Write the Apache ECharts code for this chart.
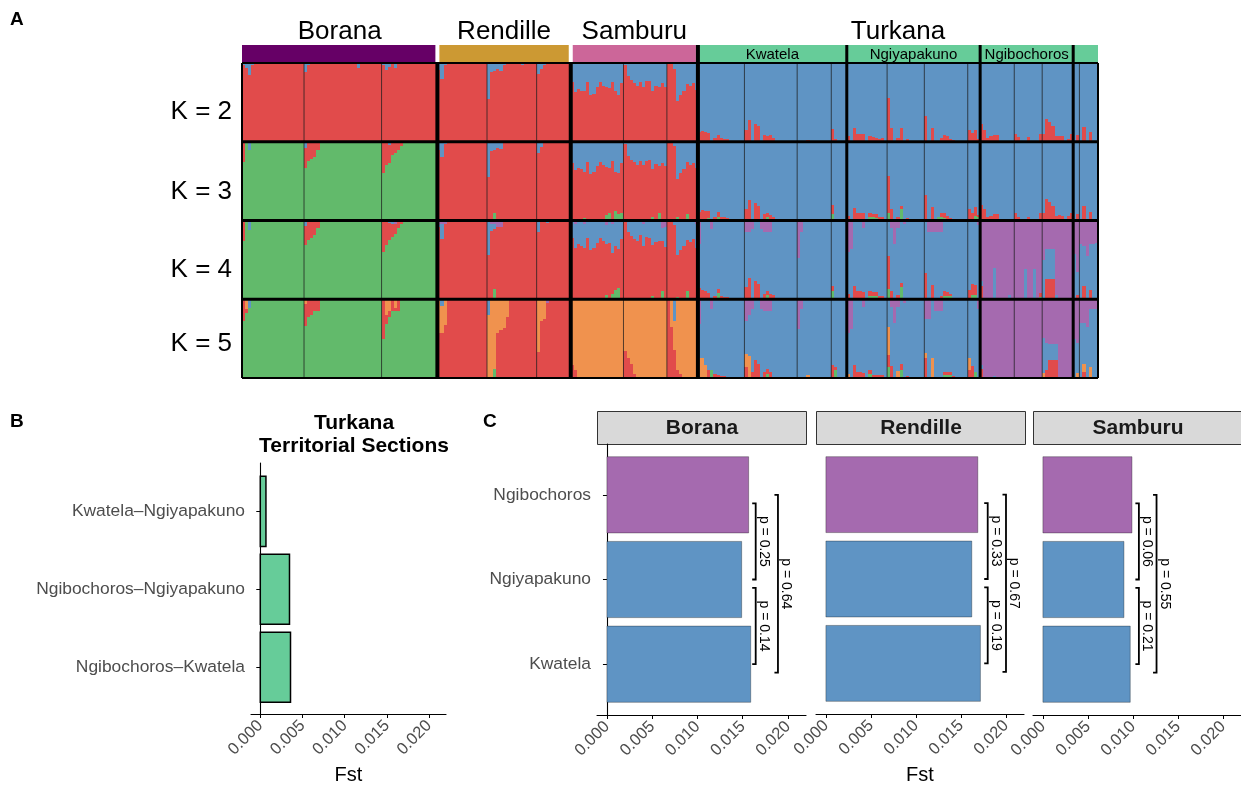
<!DOCTYPE html>
<html>
<head>
<meta charset="utf-8">
<script src="https://cdn.jsdelivr.net/npm/echarts@6.0.0/dist/echarts.min.js"></script>
<style>
  html, body { margin: 0; padding: 0; background: #ffffff; }
  #chart { width: 1241px; height: 786px; }
</style>
</head>
<body>
<div id="chart"></div>
<script>
// ---------------------------------------------------------------------------
// Panel A: ancestry proportions per individual (K = 2..5)
// ---------------------------------------------------------------------------
const K_VALUES = [2, 3, 4, 5];
const K_LABEL_POS = [0.62, 1.64, 2.63, 3.56];
const STACK_ORDER = ['green', 'red', 'orange', 'blue', 'purple']; // bottom -> top
const ANCESTRY_COLORS = { green: '#62BA6B', red: '#E14B4B', orange: '#F0924E', blue: '#5F94C4', purple: '#A56AAF' };

const POPULATIONS = ['Borana', 'Rendille', 'Samburu', 'Turkana'];
const POP_COLORS = ['#660066', '#CC9933', '#CC6699', '#66CC99'];
const BLOCKS = ['Borana', 'Rendille', 'Samburu', 'Kwatela', 'Ngiyapakuno', 'Ngibochoros', 'Other'];
const BLOCK_POP = [0, 1, 2, 3, 3, 3, 3];
const BLOCK_SECTION_LABEL = ['', '', '', 'Kwatela', 'Ngiyapakuno', 'Ngibochoros', ''];
// individuals per sampling subgroup inside each block
const SUBGROUP_SIZES = [[20, 25, 18], [16, 16, 11], [17, 14, 10], [15, 17, 11, 5], [13, 12, 14, 4], [11, 9, 10], [2, 6]];

// component filling the remainder of each individual, per block
const DOMINANT_K2 = ['red', 'red', 'red', 'blue', 'blue', 'blue', 'blue'];
const DOMINANT_K3 = ['green', 'red', 'red', 'blue', 'blue', 'blue', 'blue'];
const DOMINANT_K4 = ['green', 'red', 'red', 'blue', 'blue', 'purple', 'blue'];
const DOMINANT_K5 = ['green', 'red', 'orange', 'blue', 'blue', 'purple', 'blue'];

// minor components, listed per sampling subgroup from the left (unlisted = 0)
const Q2_BORANA_BLUE = [[0.02, 0.06, 0.15, 0.02, 0, 0, 0.01, 0, 0, 0, 0.01], [0.12, 0.03, 0, 0, 0, 0, 0, 0, 0, 0, 0, 0, 0, 0, 0, 0, 0, 0.06], [0.03, 0.09, 0.05, 0, 0.06]];
const Q3_BORANA_RED = [[0.26], [0.25, 0.25, 0.22, 0.19, 0.10], [0.40, 0.30, 0.23, 0.17, 0.14, 0.10, 0.05]];
const Q3_BORANA_BLUE = [[0, 0, 0.11], [0.08], [0, 0, 0.04]];
const Q4_BORANA_RED = [[0.26], [0.24, 0.25, 0.22, 0.18, 0.10], [0.40, 0.31, 0.22, 0.17, 0.13, 0.09, 0.05]];
const Q4_BORANA_BLUE = [[0, 0, 0.12], [0.07], [0, 0, 0.03, 0.04]];
const Q4_BORANA_PURPLE = [[], [], [0, 0, 0, 0, 0.04]];
const Q5_BORANA_RED = [[0.28, 0.04], [0.28, 0.23, 0.20, 0.15, 0.15], [0.50, 0.11, 0.07, 0.15, 0.04, 0.15]];
const Q5_BORANA_ORANGE = [[0, 0.13], [0.06], [0, 0.20, 0.15, 0, 0.11]];
const Q5_BORANA_BLUE = [[0, 0, 0.11]];

const Q2_RENDILLE_BLUE = [[0.09, 0.20, 0.03], [0.46, 0.11, 0.10, 0.08, 0.10, 0.02, 0, 0, 0, 0, 0, 0.02], [0.14, 0.08, 0.02]];
const Q3_RENDILLE_BLUE = [[0.10, 0.19, 0.03], [0.45, 0.12, 0.10, 0.08, 0.09, 0.02], [0.14, 0.07, 0.02]];
const Q3_RENDILLE_GREEN = [[], [0, 0, 0.10]];
const Q4_RENDILLE_BLUE = [[0.02, 0.19], [0.44, 0.08, 0.06], [0.14, 0, 0, 0.03]];
const Q4_RENDILLE_PURPLE = [[0.06, 0.04, 0.05], [0, 0.05, 0.05, 0.08, 0.08]];
const Q4_RENDILLE_GREEN = [[], [0, 0, 0.13]];
const Q5_RENDILLE_ORANGE = [[0.43, 0.34, 0.33], [0.80, 1.0, 0.89, 0.43, 0.39, 0.36, 0.22], [0.67, 0.27, 0.25]];
const Q5_RENDILLE_BLUE = [[0, 0.09], [0.20]];
const Q5_RENDILLE_GREEN = [[], [0, 0, 0.11]];
const Q5_RENDILLE_PURPLE = [[], [], [0, 0, 0, 0.05]];

const Q2_SAMBURU_BLUE = [[0.24, 0.37, 0.33, 0.35, 0.36, 0.24, 0.40, 0.39, 0.31, 0.24, 0.29, 0.31, 0.32, 0.24, 0.36, 0.40, 0.26], [0.02, 0.17, 0.22, 0.26, 0.29, 0.24, 0.30, 0.23, 0.23, 0.35, 0.29, 0.30, 0.26, 0.31], [0, 0, 0.07, 0.48, 0.40, 0.35, 0.27, 0.29, 0.26, 0.34]];
const Q3_SAMBURU_BLUE = [[0.27, 0.36, 0.33, 0.34, 0.38, 0.26, 0.41, 0.38, 0.31, 0.26, 0.30, 0.32, 0.33, 0.25, 0.38, 0.40, 0.27], [0.03, 0.18, 0.23, 0.26, 0.30, 0.25, 0.30, 0.24, 0.23, 0.34, 0.28, 0.31, 0.27, 0.31], [0, 0, 0.05, 0.47, 0.40, 0.34, 0.26, 0.29, 0.27, 0.33]];
const Q3_SAMBURU_GREEN = [[0, 0, 0, 0, 0.03, 0, 0, 0, 0, 0, 0, 0.07, 0.10, 0, 0.12, 0.08, 0.10], [0, 0, 0, 0, 0, 0, 0, 0, 0, 0.05, 0, 0.09], [0, 0, 0, 0.04, 0, 0, 0.08]];
const Q4_SAMBURU_BLUE = [[0.22, 0.30, 0.30, 0.32, 0.30, 0.22, 0.37, 0.35, 0.28, 0.22, 0.26, 0.24, 0.29, 0.36, 0.33, 0.36, 0.24], [0.02, 0.15, 0.20, 0.24, 0.26, 0.19, 0.28, 0.21, 0.22, 0.31, 0.27, 0.26, 0.16, 0.26], [0, 0, 0.06, 0.44, 0.37, 0.32, 0.25, 0.27, 0.24, 0.30]];
const Q4_SAMBURU_PURPLE = [[0, 0.05, 0, 0, 0.05, 0, 0, 0, 0, 0, 0, 0.06, 0, 0.05], [0, 0, 0, 0, 0, 0, 0.05, 0, 0, 0, 0, 0, 0.10, 0.08], [0, 0, 0, 0, 0, 0, 0, 0, 0, 0.05]];
const Q4_SAMBURU_GREEN = [[0, 0, 0, 0, 0.02, 0, 0, 0, 0, 0, 0, 0.05, 0, 0.07, 0.12, 0.14], [0, 0, 0, 0, 0, 0, 0, 0, 0, 0.04, 0, 0, 0.10], [0, 0, 0, 0.03, 0, 0, 0.10]];
const Q5_SAMBURU_RED = [[0.17, 0.10], [0.34, 0.26, 0.18, 0.05], [1.0, 0.65, 0.35, 0.10, 0.05]];
const Q5_SAMBURU_BLUE = [[], [], [0, 0, 0.28]];

const Q2_KWATELA_RED = [[0.12, 0.14, 0.13, 0.11, 0.01, 0.05, 0.08, 0.05, 0.04, 0.04, 0.01, 0, 0, 0.01], [0.15, 0.27, 0.01, 0.23, 0.20, 0.01, 0.08, 0.07, 0.08, 0.05, 0, 0, 0, 0, 0, 0.01], [0, 0, 0, 0.02], [0.16, 0.03]];
const Q3_KWATELA_RED = [[0.11, 0.13, 0.12, 0.09, 0.01, 0.05, 0.06, 0.05, 0.04, 0.03], [0.14, 0.26, 0.01, 0.22, 0.19, 0.01, 0.08, 0.05, 0.07, 0.05], [0, 0, 0, 0.02], [0.12, 0.02]];
const Q3_KWATELA_GREEN = [[0, 0, 0, 0.03, 0, 0, 0.05], [0, 0, 0, 0, 0, 0, 0, 0.04], [], [0.08]];
const Q4_KWATELA_RED = [[0.14, 0.12, 0.10, 0.08, 0, 0.04, 0.05, 0.04, 0.03, 0.03], [0.15, 0.27, 0, 0.23, 0.20, 0, 0.07, 0.06, 0.07, 0.05], [0, 0, 0, 0.02], [0.07, 0.02]];
const Q4_KWATELA_GREEN = [[0, 0, 0, 0, 0, 0, 0.08], [0, 0, 0, 0, 0, 0, 0, 0.05], [], [0.10]];
const Q4_KWATELA_PURPLE = [[0.30, 0, 0, 0, 0.11], [0.15, 0.14, 0.11, 0, 0, 0.11, 0.15, 0.15, 0.15], [0.47, 0.15]];
const Q5_KWATELA_ORANGE = [[0.25, 0.25, 0.16], [0.17, 0.28], [0, 0, 0, 0.04]];
const Q5_KWATELA_RED = [[0, 0, 0, 0.10, 0, 0.05, 0.04, 0.03, 0.03], [0.14, 0, 0.08, 0.23, 0.18, 0, 0.07, 0.06, 0.07], [], [0.16, 0.04]];
const Q5_KWATELA_GREEN = [[0, 0, 0, 0, 0.10], [0, 0, 0, 0, 0, 0, 0, 0.05], [], [0, 0.10]];
const Q5_KWATELA_PURPLE = [[0.32, 0, 0, 0, 0.12], [0.27, 0.20, 0.12, 0, 0, 0.12, 0.15, 0.15, 0.15], [0.38, 0.12]];

const Q2_NGIYAPAKUNO_RED = [[0.07, 0.01, 0.17, 0.10, 0.10, 0.10, 0.01, 0.07, 0.06, 0.05, 0.04, 0.05, 0.01], [0.55, 0.17, 0.01, 0.05, 0.17, 0, 0.03], [0.33, 0.01, 0.18, 0, 0, 0.05, 0.09, 0.07, 0.03, 0.02], [0.15, 0.11, 0.15, 0.03]];
const Q3_NGIYAPAKUNO_RED = [[0.06, 0.01, 0.16, 0.10, 0.09, 0.09, 0.01, 0.05, 0.04, 0.05, 0.04, 0.04, 0.01], [0.47, 0.15, 0.01, 0.05, 0.05, 0, 0.03], [0.33, 0.01, 0.17, 0, 0, 0.04, 0.07, 0.06, 0.03, 0.02], [0.14, 0.10, 0.11, 0.02]];
const Q3_NGIYAPAKUNO_GREEN = [[0, 0, 0, 0, 0, 0, 0, 0.04, 0.04, 0.03], [0.10, 0, 0, 0, 0.14], [0, 0, 0, 0, 0.04, 0.05, 0.03], [0, 0, 0.06, 0.05]];
const Q4_NGIYAPAKUNO_RED = [[0.07, 0, 0.17, 0.10, 0.10, 0.09, 0, 0.06, 0.05, 0.05, 0.04, 0.04], [0.42, 0.10, 0, 0.05, 0.05, 0, 0.02], [0.33, 0, 0.18, 0, 0, 0.04, 0.06, 0.05, 0.03], [0.12, 0.15, 0.12]];
const Q4_NGIYAPAKUNO_GREEN = [[0, 0, 0, 0, 0, 0, 0, 0.04, 0.04, 0.04], [0.13, 0, 0, 0, 0.16], [0, 0, 0, 0, 0, 0, 0.04, 0.04, 0.04], [0, 0.05, 0.06]];
const Q4_NGIYAPAKUNO_PURPLE = [[0.40, 0.36, 0, 0, 0, 0.10], [0, 0.10, 0.30, 0.10, 0, 0.05], [0, 0.15, 0.15, 0.15, 0.15, 0.15], [0, 0, 0, 0.06]];
const Q5_NGIYAPAKUNO_ORANGE = [[0.05], [0.36, 0, 0, 0.09], [0.07, 0, 0.25], [0.15]];
const Q5_NGIYAPAKUNO_RED = [[0, 0, 0.16, 0.07, 0.07, 0.06, 0, 0.05, 0.04, 0.04, 0.04, 0.04], [0.15, 0.15, 0, 0, 0.08, 0, 0.02], [0.25, 0, 0, 0, 0, 0, 0.04, 0.04, 0.04, 0.03], [0.10, 0.15]];
const Q5_NGIYAPAKUNO_GREEN = [[0, 0, 0, 0, 0, 0, 0, 0.05], [0.14, 0, 0, 0, 0.10], [0, 0, 0, 0, 0, 0, 0.04, 0.04, 0.04], [0, 0, 0.08]];
const Q5_NGIYAPAKUNO_PURPLE = [[0.43, 0.38, 0, 0, 0, 0.10], [0, 0.10, 0.30, 0.10, 0, 0.05], [0.25, 0.25, 0, 0.15, 0.15, 0.15], [0, 0, 0, 0.12]];

const Q2_NGIBOCHOROS_RED = [[0.22, 0.15, 0.05, 0.07, 0.09, 0.09, 0.01], [0.10, 0.06, 0, 0, 0.06, 0, 0, 0, 0.10], [0.10, 0.29, 0.25, 0.20, 0.07, 0.07, 0.07, 0.01, 0.04, 0.10]];
const Q3_NGIBOCHOROS_RED = [[0.20, 0.14, 0.05, 0.06, 0.08, 0.08, 0.01], [0.09, 0.05, 0, 0, 0.05, 0, 0, 0, 0.09], [0.09, 0.27, 0.24, 0.19, 0.06, 0.07, 0.06, 0.01, 0.04, 0.09]];
const Q3_NGIBOCHOROS_GREEN = [[0, 0, 0, 0, 0, 0, 0, 0, 0.02], [], [0, 0, 0, 0, 0, 0, 0, 0, 0.02]];
const Q4_NGIBOCHOROS_RED = [[0.17], [0, 0, 0, 0, 0, 0, 0, 0, 0.05], [0, 0.26, 0.26, 0.26]];
const Q4_NGIBOCHOROS_BLUE = [[0.06, 0, 0, 0, 0.40, 0, 0, 0, 0, 0.05], [0, 0, 0, 0.38, 0, 0, 0.39], [0.50, 0.38, 0.38, 0.38, 0.05]];
const Q4_NGIBOCHOROS_GREEN = [[], [0, 0, 0, 0, 0, 0, 0, 0, 0.03]];
const Q5_NGIBOCHOROS_RED = [[0.12], [], [0, 0.10, 0.23, 0.23, 0.23]];
const Q5_NGIBOCHOROS_BLUE = [[0.05, 0, 0, 0, 0.02], [], [0.45, 0.35, 0.20, 0.20, 0.20]];
const Q5_NGIBOCHOROS_ORANGE = [[], [], [0.06]];

const Q2_OTHER_RED = [[0, 0.09], [0, 0.19, 0, 0.12]];
const Q3_OTHER_RED = [[0, 0.08], [0, 0.18, 0, 0.11]];
const Q4_OTHER_RED = [[0, 0.05], [0, 0.17, 0, 0.12]];
const Q4_OTHER_PURPLE = [[0.42, 0.65], [0.30, 0.33, 0.45, 0.30, 0.30, 0.28]];
const Q5_OTHER_ORANGE = [[0, 0.06], [0, 0.10, 0, 0.14]];
const Q5_OTHER_RED = [[], [0, 0.08]];
const Q5_OTHER_PURPLE = [[0.50, 0.55], [0.30, 0.30, 0.35, 0.12, 0.12, 0.12]];

// ---------------------------------------------------------------------------
// Panel B: Fst between Turkana territorial sections (bottom -> top)
// ---------------------------------------------------------------------------
const SECTION_PAIRS = ['Ngibochoros–Kwatela', 'Ngibochoros–Ngiyapakuno', 'Kwatela–Ngiyapakuno'];
const SECTION_PAIR_FST = [0.00358, 0.00346, 0.00067];

// ---------------------------------------------------------------------------
// Panel C: Fst of each Turkana section against neighbouring populations
// ---------------------------------------------------------------------------
const C_PANELS = ['Borana', 'Rendille', 'Samburu'];
const C_SECTIONS = ['Kwatela', 'Ngiyapakuno', 'Ngibochoros']; // bottom -> top
const FST_BORANA = [0.01589, 0.01489, 0.01566];
const FST_RENDILLE = [0.01716, 0.01620, 0.01687];
const FST_SAMBURU = [0.00970, 0.00900, 0.00989];
// significance brackets: [upper end, lower end] on the section axis
const BRACKET_ENDS = [[2.9, 2.0], [1.9, 1.0], [3.0, 0.9]];
const BRACKET_X_BORANA = [0.01644, 0.01644, 0.0189];
const BRACKET_X_RENDILLE = [0.01797, 0.01797, 0.0200];
const BRACKET_X_SAMBURU = [0.01066, 0.01066, 0.01262];
const P_BORANA = ['0.25', '0.14', '0.64'];
const P_RENDILLE = ['0.33', '0.19', '0.67'];
const P_SAMBURU = ['0.06', '0.21', '0.55'];

const FST_TICKS = [0, 0.005, 0.01, 0.015, 0.02];

// ---------------------------------------------------------------------------
const FONT = "'Liberation Sans', Arial, Helvetica, sans-serif";
const TICK_GREY = '#4D4D4D';

const TRACKS = [
  [2, 0, 'blue', Q2_BORANA_BLUE],
  [3, 0, 'red', Q3_BORANA_RED], [3, 0, 'blue', Q3_BORANA_BLUE],
  [4, 0, 'red', Q4_BORANA_RED], [4, 0, 'blue', Q4_BORANA_BLUE], [4, 0, 'purple', Q4_BORANA_PURPLE],
  [5, 0, 'red', Q5_BORANA_RED], [5, 0, 'orange', Q5_BORANA_ORANGE], [5, 0, 'blue', Q5_BORANA_BLUE],
  [2, 1, 'blue', Q2_RENDILLE_BLUE],
  [3, 1, 'blue', Q3_RENDILLE_BLUE], [3, 1, 'green', Q3_RENDILLE_GREEN],
  [4, 1, 'blue', Q4_RENDILLE_BLUE], [4, 1, 'purple', Q4_RENDILLE_PURPLE], [4, 1, 'green', Q4_RENDILLE_GREEN],
  [5, 1, 'orange', Q5_RENDILLE_ORANGE], [5, 1, 'blue', Q5_RENDILLE_BLUE], [5, 1, 'green', Q5_RENDILLE_GREEN], [5, 1, 'purple', Q5_RENDILLE_PURPLE],
  [2, 2, 'blue', Q2_SAMBURU_BLUE],
  [3, 2, 'blue', Q3_SAMBURU_BLUE], [3, 2, 'green', Q3_SAMBURU_GREEN],
  [4, 2, 'blue', Q4_SAMBURU_BLUE], [4, 2, 'purple', Q4_SAMBURU_PURPLE], [4, 2, 'green', Q4_SAMBURU_GREEN],
  [5, 2, 'red', Q5_SAMBURU_RED], [5, 2, 'blue', Q5_SAMBURU_BLUE],
  [2, 3, 'red', Q2_KWATELA_RED],
  [3, 3, 'red', Q3_KWATELA_RED], [3, 3, 'green', Q3_KWATELA_GREEN],
  [4, 3, 'red', Q4_KWATELA_RED], [4, 3, 'green', Q4_KWATELA_GREEN], [4, 3, 'purple', Q4_KWATELA_PURPLE],
  [5, 3, 'orange', Q5_KWATELA_ORANGE], [5, 3, 'red', Q5_KWATELA_RED], [5, 3, 'green', Q5_KWATELA_GREEN], [5, 3, 'purple', Q5_KWATELA_PURPLE],
  [2, 4, 'red', Q2_NGIYAPAKUNO_RED],
  [3, 4, 'red', Q3_NGIYAPAKUNO_RED], [3, 4, 'green', Q3_NGIYAPAKUNO_GREEN],
  [4, 4, 'red', Q4_NGIYAPAKUNO_RED], [4, 4, 'green', Q4_NGIYAPAKUNO_GREEN], [4, 4, 'purple', Q4_NGIYAPAKUNO_PURPLE],
  [5, 4, 'orange', Q5_NGIYAPAKUNO_ORANGE], [5, 4, 'red', Q5_NGIYAPAKUNO_RED], [5, 4, 'green', Q5_NGIYAPAKUNO_GREEN], [5, 4, 'purple', Q5_NGIYAPAKUNO_PURPLE],
  [2, 5, 'red', Q2_NGIBOCHOROS_RED],
  [3, 5, 'red', Q3_NGIBOCHOROS_RED], [3, 5, 'green', Q3_NGIBOCHOROS_GREEN],
  [4, 5, 'red', Q4_NGIBOCHOROS_RED], [4, 5, 'blue', Q4_NGIBOCHOROS_BLUE], [4, 5, 'green', Q4_NGIBOCHOROS_GREEN],
  [5, 5, 'red', Q5_NGIBOCHOROS_RED], [5, 5, 'blue', Q5_NGIBOCHOROS_BLUE], [5, 5, 'orange', Q5_NGIBOCHOROS_ORANGE],
  [2, 6, 'red', Q2_OTHER_RED],
  [3, 6, 'red', Q3_OTHER_RED],
  [4, 6, 'red', Q4_OTHER_RED], [4, 6, 'purple', Q4_OTHER_PURPLE],
  [5, 6, 'orange', Q5_OTHER_ORANGE], [5, 6, 'red', Q5_OTHER_RED], [5, 6, 'purple', Q5_OTHER_PURPLE]
];
const DOMINANT = { 2: DOMINANT_K2, 3: DOMINANT_K3, 4: DOMINANT_K4, 5: DOMINANT_K5 };

// ---- layout of individuals along the x axis --------------------------------
const blockStart = [];
const blockSize = [];
let total = 0;
SUBGROUP_SIZES.forEach(sizes => {
  const n = sizes.reduce((a, b) => a + b, 0);
  blockStart.push(total); blockSize.push(n); total += n;
});
const N_IND = total;

function expand(nested, sizes) {
  const out = [];
  sizes.forEach((s, g) => {
    const vals = nested[g] || [];
    for (let i = 0; i < s; i++) out.push(vals[i] || 0);
  });
  return out;
}

// stacked segments: [individual, row, from, to, componentIndex]
const segments = [];
K_VALUES.forEach((k, row) => {
  BLOCKS.forEach((_, b) => {
    const n = blockSize[b];
    const frac = {};
    STACK_ORDER.forEach(c => { frac[c] = new Array(n).fill(0); });
    TRACKS.filter(t => t[0] === k && t[1] === b).forEach(t => {
      const v = expand(t[3], SUBGROUP_SIZES[b]);
      for (let i = 0; i < n; i++) frac[t[2]][i] += v[i];
    });
    const dom = DOMINANT[k][b];
    for (let i = 0; i < n; i++) {
      let minor = 0;
      STACK_ORDER.forEach(c => { if (c !== dom) minor += frac[c][i]; });
      frac[dom][i] = Math.max(0, 1 - minor);
      const sum = Math.max(1, minor + frac[dom][i]);
      let cum = 0;
      STACK_ORDER.forEach((c, ci) => {
        const f = frac[c][i] / sum;
        if (f > 0.0005) {
          segments.push([blockStart[b] + i, row, cum, cum + f, ci]);
          cum += f;
        }
      });
    }
  });
});

// separators: [orientation (0 vertical / 1 horizontal), position, width, subgroup flag]
const separators = [];
BLOCKS.forEach((_, b) => {
  let acc = blockStart[b];
  SUBGROUP_SIZES[b].slice(0, -1).forEach(s => { acc += s; separators.push([0, acc, 1, 1]); });
  if (b > 0) separators.push([0, blockStart[b], BLOCK_POP[b] !== BLOCK_POP[b - 1] ? 4 : 3, 0]);
});
separators.push([0, 0, 2, 0], [0, N_IND, 2, 0]);
K_VALUES.forEach((_, r) => { if (r > 0) separators.push([1, r, 3, 0]); });
separators.push([1, 0, 2, 0], [1, K_VALUES.length, 2, 0]);

// header strips: [start, end, population]
const strips = POPULATIONS.map((_, p) => {
  const bs = BLOCKS.map((_, b) => b).filter(b => BLOCK_POP[b] === p);
  return [blockStart[bs[0]], blockStart[bs[bs.length - 1]] + blockSize[bs[bs.length - 1]], p];
});
// Turkana section cells: [start, end, block]
const sectionCells = BLOCKS.map((_, b) => b).filter(b => BLOCK_POP[b] === 3)
  .map(b => [blockStart[b], blockStart[b] + blockSize[b], b]);

// ---------------------------------------------------------------------------
const chart = echarts.init(document.getElementById('chart'));

const A_LEFT = 242, A_WIDTH = 856;
const C_LEFT = [597, 816, 1033];
const C_WIDTH = 208;
const FST_MIN = -0.0011, FST_MAX = 0.022;

function fstXAxis(gridIndex, withName) {
  return {
    gridIndex, type: 'value', min: FST_MIN, max: FST_MAX,
    axisLine: { show: true, lineStyle: { color: '#000', width: 1.1 } },
    axisTick: { show: true, customValues: FST_TICKS, length: 4, lineStyle: { color: '#000', width: 1 } },
    axisLabel: { show: true, customValues: FST_TICKS, formatter: v => v.toFixed(3), rotate: 45, fontSize: 16.5, color: TICK_GREY, margin: 9, fontFamily: FONT },
    splitLine: { show: false },
    name: withName ? 'Fst' : '', nameLocation: 'middle', nameGap: 51,
    nameTextStyle: { fontSize: 20, color: '#000', fontFamily: FONT }
  };
}
function catYAxis(gridIndex, labels, show, min, max) {
  return {
    gridIndex, type: 'value', min, max, show,
    axisLine: { show: true, lineStyle: { color: '#000', width: 1.1 } },
    axisTick: { show: true, customValues: [1, 2, 3], length: 4, lineStyle: { color: '#000', width: 1 } },
    axisLabel: { show: true, customValues: [1, 2, 3], formatter: v => labels[Math.round(v) - 1], fontSize: 17.4, color: TICK_GREY, margin: 6, fontFamily: FONT },
    splitLine: { show: false }
  };
}

function fstBars(gridIndex, values, colors, stroke) {
  return {
    type: 'custom', xAxisIndex: gridIndex, yAxisIndex: gridIndex,
    data: values.map((v, i) => [v, i + 1]),
    renderItem(params, api) {
      const v = api.value(0), y = api.value(1);
      const a = api.coord([0, y + 0.45]);
      const b = api.coord([v, y - 0.45]);
      return {
        type: 'rect',
        shape: { x: a[0], y: a[1], width: b[0] - a[0], height: b[1] - a[1] },
        style: { fill: colors[params.dataIndex], stroke: stroke.color, lineWidth: stroke.width }
      };
    }
  };
}

function brackets(gridIndex, xs, pvals) {
  return {
    type: 'custom', xAxisIndex: gridIndex, yAxisIndex: gridIndex, z: 4,
    data: xs.map((x, i) => [x, BRACKET_ENDS[i][0], BRACKET_ENDS[i][1]]),
    renderItem(params, api) {
      const x = api.value(0);
      const top = api.coord([x, api.value(1)]);
      const bot = api.coord([x, api.value(2)]);
      const tip = 3.5;
      return {
        type: 'group',
        children: [
          { type: 'polyline', shape: { points: [[top[0] - tip, top[1]], top, bot, [bot[0] - tip, bot[1]]] },
            style: { stroke: '#000', lineWidth: 1.8, fill: null } },
          { type: 'text', x: top[0] + 8, y: (top[1] + bot[1]) / 2, rotation: -Math.PI / 2,
            style: { text: 'p = ' + pvals[params.dataIndex], fontSize: 14, fontFamily: FONT, fill: '#000', align: 'center', verticalAlign: 'middle' } }
        ]
      };
    }
  };
}

const cColors = C_SECTIONS.map(s => s === 'Ngibochoros' ? ANCESTRY_COLORS.purple : ANCESTRY_COLORS.blue);
const barStrokeC = { color: 'rgba(0,0,0,0.45)', width: 0.7 };

const option = {
  animation: false,
  textStyle: { fontFamily: FONT },
  title: {
    text: 'Turkana\nTerritorial Sections', left: 349, top: 407, textAlign: 'center',
    textStyle: { fontSize: 21, fontWeight: 'bold', color: '#000', lineHeight: 23, fontFamily: FONT }
  },
  grid: [
    { left: A_LEFT, top: 45, width: A_WIDTH, height: 18 },
    { left: A_LEFT, top: 63, width: A_WIDTH, height: 315 },
    { left: 251, top: 463, width: 195, height: 252 },
    { left: C_LEFT[0], top: 444, width: C_WIDTH + 1, height: 271 },
    { left: C_LEFT[1], top: 444, width: C_WIDTH, height: 271 },
    { left: C_LEFT[2], top: 444, width: C_WIDTH, height: 271 }
  ],
  xAxis: [
    { gridIndex: 0, type: 'value', min: 0, max: N_IND, show: false },
    { gridIndex: 1, type: 'value', min: 0, max: N_IND, show: false },
    fstXAxis(2, true),
    fstXAxis(3, false),
    fstXAxis(4, true),
    fstXAxis(5, false)
  ],
  yAxis: [
    { gridIndex: 0, type: 'value', min: 0, max: 1, show: false },
    {
      gridIndex: 1, type: 'value', min: 0, max: K_VALUES.length, inverse: true,
      axisLine: { show: false }, axisTick: { show: false }, splitLine: { show: false },
      axisLabel: { show: true, customValues: K_LABEL_POS, formatter: v => 'K = ' + K_VALUES[Math.floor(v)], fontSize: 26, color: '#000', margin: 10, fontFamily: FONT }
    },
    catYAxis(2, SECTION_PAIRS, true, 0.4, 3.62),
    catYAxis(3, C_SECTIONS, true, 0.4, 3.6),
    catYAxis(4, C_SECTIONS, false, 0.4, 3.6),
    catYAxis(5, C_SECTIONS, false, 0.4, 3.6)
  ],
  graphic: [
    { type: 'text', left: 10, top: 10, style: { text: 'A', fontSize: 19, fontWeight: 'bold', fill: '#000', fontFamily: FONT } },
    { type: 'text', left: 10, top: 412, style: { text: 'B', fontSize: 19, fontWeight: 'bold', fill: '#000', fontFamily: FONT } },
    { type: 'text', left: 483, top: 412, style: { text: 'C', fontSize: 19, fontWeight: 'bold', fill: '#000', fontFamily: FONT } },
    ...C_PANELS.map((name, i) => ({
      type: 'group', left: C_LEFT[i], top: 411,
      children: [
        { type: 'rect', shape: { x: 0, y: 0, width: C_WIDTH + (i === 2 ? 0 : 1), height: 33 },
          style: { fill: '#D9D9D9', stroke: '#333', lineWidth: 1 } },
        { type: 'text', x: (C_WIDTH + 1) / 2, y: 17,
          style: { text: name, fontSize: 21, fontWeight: 'bold', fill: '#1A1A1A', align: 'center', verticalAlign: 'middle', fontFamily: FONT } }
      ]
    }))
  ],
  series: [
    // population strips with names above
    {
      type: 'custom', xAxisIndex: 0, yAxisIndex: 0, z: 2,
      data: strips,
      renderItem(params, api) {
        const p = api.value(2);
        const a = api.coord([api.value(0), 1]);
        const b = api.coord([api.value(1), 0]);
        const padL = (p > 0 && p < 3) ? 2 : 0;
        const padR = p < 3 ? 2 : 0;
        return {
          type: 'group',
          children: [
            { type: 'rect', shape: { x: a[0] + padL, y: a[1], width: b[0] - a[0] - padL - padR, height: b[1] - a[1] },
              style: { fill: POP_COLORS[p] } },
            { type: 'text', x: (a[0] + b[0]) / 2, y: a[1] - 13,
              style: { text: POPULATIONS[p], fontSize: 26, fill: '#000', align: 'center', verticalAlign: 'middle', fontFamily: FONT } }
          ]
        };
      }
    },
    // Turkana territorial section labels and dividers
    {
      type: 'custom', xAxisIndex: 0, yAxisIndex: 0, z: 3,
      data: sectionCells,
      renderItem(params, api) {
        const b = api.value(2);
        const a = api.coord([api.value(0), 1]);
        const e = api.coord([api.value(1), 0]);
        const first = api.value(0) === blockStart[BLOCK_POP.indexOf(3)];
        return {
          type: 'group',
          children: [
            { type: 'line', shape: { x1: a[0], y1: a[1], x2: a[0], y2: e[1] },
              style: { stroke: '#000', lineWidth: first ? 4 : 3 } },
            { type: 'text', x: (a[0] + e[0]) / 2, y: (a[1] + e[1]) / 2 + 1,
              style: { text: BLOCK_SECTION_LABEL[b], fontSize: 15, fill: '#000', align: 'center', verticalAlign: 'middle', fontFamily: FONT } }
          ]
        };
      }
    },
    // ancestry proportions (snapped to whole pixels so neighbours meet without seams)
    {
      type: 'custom', xAxisIndex: 1, yAxisIndex: 1, z: 2,
      data: segments,
      renderItem(params, api) {
        const x = api.value(0), row = api.value(1), c0 = api.value(2), c1 = api.value(3);
        const tl = api.coord([x, row + 1 - c1]);
        const br = api.coord([x + 1, row + 1 - c0]);
        const x0 = Math.round(tl[0]), x1 = Math.round(br[0]);
        const y0 = Math.round(tl[1]), y1 = Math.round(br[1]);
        if (y1 <= y0) return null;
        return {
          type: 'rect',
          shape: { x: x0, y: y0, width: x1 - x0, height: y1 - y0 },
          style: { fill: ANCESTRY_COLORS[STACK_ORDER[api.value(4)]] }
        };
      }
    },
    // panel frame, row, population and subgroup dividers
    {
      type: 'custom', xAxisIndex: 1, yAxisIndex: 1, z: 3,
      data: separators,
      renderItem(params, api) {
        const orient = api.value(0), pos = api.value(1), w = api.value(2), sub = api.value(3);
        let a, b;
        if (orient === 0) { a = api.coord([pos, 0]); b = api.coord([pos, K_VALUES.length]); }
        else { a = api.coord([0, pos]); b = api.coord([N_IND, pos]); }
        return {
          type: 'line',
          shape: { x1: a[0], y1: a[1], x2: b[0], y2: b[1] },
          style: { stroke: sub ? 'rgba(30,30,30,0.75)' : '#000', lineWidth: w }
        };
      }
    },
    // panel B
    fstBars(2, SECTION_PAIR_FST, SECTION_PAIR_FST.map(() => '#66CC99'), { color: '#000', width: 1.5 }),
    // panel C
    fstBars(3, FST_BORANA, cColors, barStrokeC),
    fstBars(4, FST_RENDILLE, cColors, barStrokeC),
    fstBars(5, FST_SAMBURU, cColors, barStrokeC),
    brackets(3, BRACKET_X_BORANA, P_BORANA),
    brackets(4, BRACKET_X_RENDILLE, P_RENDILLE),
    brackets(5, BRACKET_X_SAMBURU, P_SAMBURU)
  ]
};

chart.setOption(option);
</script>
</body>
</html>
